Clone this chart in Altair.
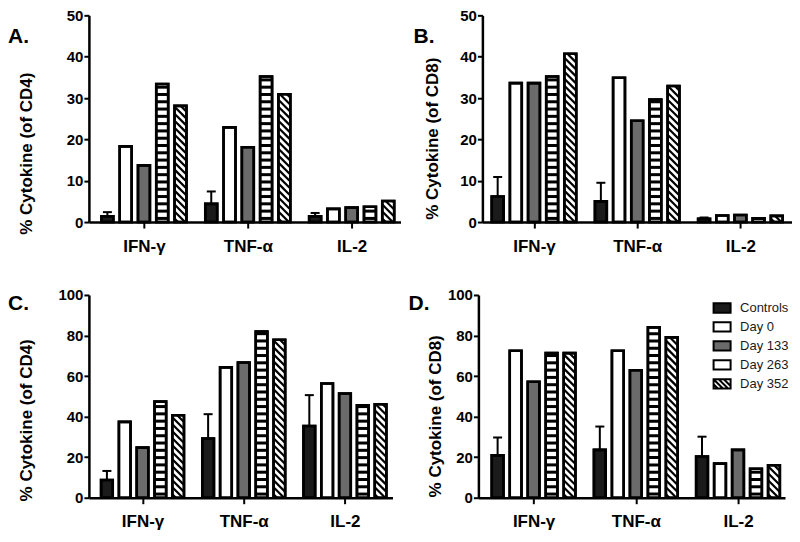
import json
import altair as alt
import pandas as pd

CYTOKINES = ["IFN-γ", "TNF-α", "IL-2"]
SERIES = ["Controls", "Day 0", "Day 133", "Day 263", "Day 352"]
FILLS = ["#1b1b1b", "#ffffff", "#6b6b6b", "#ffffff", "#ffffff"]

# Panel A: % cytokine of CD4 (scale 0-50)
A_IFN = [1.4, 18.3, 13.7, 33.4, 28.1]
A_TNF = [4.4, 22.9, 18.1, 35.2, 30.9]
A_IL2 = [1.4, 3.2, 3.5, 3.7, 5.1]
A_ERR = [1.0, 3.0, 0.8]          # controls error (IFN, TNF, IL-2)

# Panel B: % cytokine of CD8 (scale 0-50)
B_IFN = [6.2, 33.6, 33.6, 35.2, 40.7]
B_TNF = [5.0, 34.9, 24.5, 29.6, 32.9]
B_IL2 = [0.8, 1.6, 1.7, 0.9, 1.5]
B_ERR = [4.7, 4.5, 0.3]

# Panel C: % cytokine of CD4 (scale 0-100)
C_IFN = [8.7, 37.4, 24.7, 47.4, 40.7]
C_TNF = [29.2, 64.3, 66.7, 81.9, 77.9]
C_IL2 = [35.4, 56.3, 51.4, 45.6, 46.1]
C_ERR = [4.5, 12.0, 15.2]

# Panel D: % cytokine of CD8 (scale 0-100)
D_IFN = [20.9, 72.5, 57.2, 71.3, 71.3]
D_TNF = [23.6, 72.5, 62.9, 84.0, 79.1]
D_IL2 = [20.3, 16.8, 23.6, 14.3, 16.0]
D_ERR = [8.8, 11.5, 9.8]

FONT = "Liberation Sans"
STEP = 0.176
BW = 0.115

LEGEND_PATHS = [
    "M-1,-0.55H1V0.55H-1Z",
    "M-1,-0.55H1V0.55H-1Z",
    "M-1,-0.55H1V0.55H-1Z",
    "M-1,-0.55H1V0.55H-1Z",
    "M-1,-0.55H1V0.55H-1Z M-1,-0.55L0.1,0.55 M-0.4,-0.55L0.7,0.55 M0.2,-0.55L1,0.25 M-1,0.05L-0.5,0.55",
]

LABEL_EXPR = json.dumps(CYTOKINES, ensure_ascii=False) + "[floor(datum.value)]"


def make_panel(vals, errs, ymax, ystep, W, H, dom0, letter, lx, ly, ytitle, tx, ty, legend=False):
    kx = W / 3.0
    ky = H / ymax
    rows = []
    for g, cyt in enumerate(CYTOKINES):
        for s, ser in enumerate(SERIES):
            c = g + 0.5 + (s - 2) * STEP
            rows.append(dict(cyt=cyt, series=ser, fill=FILLS[s], v=vals[g][s], base=0.0,
                             x0=c - BW / 2, x1=c + BW / 2, xc=c))
    bars = pd.DataFrame(rows)

    # horizontal stripes (Day 263)
    hs = []
    p = 7.3 / ky
    t = 3.0 / ky
    for r in rows:
        if r["series"] != "Day 263":
            continue
        y = (p - t) / 2
        while y < r["v"]:
            hs.append(dict(x0=r["x0"], x1=r["x1"], s0=y, s1=min(y + t, r["v"])))
            y += p
    hs = pd.DataFrame(hs)

    # diagonal stripes (Day 352)
    ds = []
    pc = 7.0
    for r in rows:
        if r["series"] != "Day 352":
            continue
        px0 = (r["x0"] - dom0) * kx
        px1 = (r["x1"] - dom0) * kx
        pv = r["v"] * ky
        c = px0 + pc / 2
        while c < px1 + pv:
            s = max(px0, c - pv)
            e = min(px1, c)
            if e > s:
                ds.append(dict(xa=s / kx + dom0, xb=e / kx + dom0, ya=(c - s) / ky, yb=(c - e) / ky))
            c += pc
    ds = pd.DataFrame(ds)

    er = []
    for g in range(3):
        r = rows[g * 5]
        er.append(dict(xc=r["xc"], v=r["v"], top=r["v"] + errs[g],
                       c0=r["xc"] - 4.5 / kx, c1=r["xc"] + 4.5 / kx))
    er = pd.DataFrame(er)

    xs = alt.Scale(domain=[dom0, dom0 + 3.0], nice=False, zero=False)
    ys = alt.Scale(domain=[0, ymax], nice=False, zero=True)
    xaxis = alt.Axis(values=[0.5, 1.5, 2.5], labelExpr=LABEL_EXPR, grid=False, title=None,
                     tickSize=6, tickWidth=2, domainWidth=2.5, labelFontSize=17,
                     labelFontWeight="bold", labelPadding=10, labelFont=FONT)
    yaxis = alt.Axis(values=list(range(0, ymax + 1, ystep)), grid=False, title=ytitle,
                     tickSize=5, tickWidth=2, domainWidth=2.5, labelFontSize=15,
                     labelFontWeight="bold", labelPadding=1, labelFont=FONT,
                     titleFontSize=17, titleFontWeight="bold", titleFont=FONT,
                     titleX=tx, titleY=ty, titleAngle=-90, titleBaseline="bottom")

    base = alt.Chart(bars).mark_rect(stroke="black", strokeWidth=2.6).encode(
        x=alt.X("x0:Q", scale=xs, axis=xaxis),
        x2="x1:Q",
        y=alt.Y("v:Q", scale=ys, axis=yaxis),
        y2="base:Q",
        fill=alt.Fill("fill:N", scale=None),
    )
    hstr = alt.Chart(hs).mark_rect(fill="black").encode(
        x="x0:Q", x2="x1:Q", y="s0:Q", y2="s1:Q")
    dstr = alt.Chart(ds).mark_rule(stroke="black", strokeWidth=2.2).encode(
        x="xa:Q", x2="xb:Q", y="ya:Q", y2="yb:Q")
    outline = alt.Chart(bars).mark_rect(fill="white", fillOpacity=0, stroke="black", strokeWidth=2.6).encode(
        x="x0:Q", x2="x1:Q", y="v:Q", y2="base:Q")
    errv = alt.Chart(er).mark_rule(stroke="black", strokeWidth=2).encode(
        x="xc:Q", y="v:Q", y2="top:Q")
    errc = alt.Chart(er).mark_rule(stroke="black", strokeWidth=2).encode(
        x="c0:Q", x2="c1:Q", y="top:Q")
    lab = alt.Chart(pd.DataFrame({"t": [letter]})).mark_text(
        align="left", baseline="alphabetic", fontSize=21, fontWeight="bold", font=FONT, color="black"
    ).encode(x=alt.value(lx), y=alt.value(ly), text="t:N")

    layers = [base, hstr, dstr, outline, errv, errc, lab]
    if legend:
        leg = alt.Legend(title=None, orient="none", legendX=234, legendY=3, padding=0,
                         symbolSize=290, symbolStrokeWidth=2, symbolStrokeColor="black",
                         labelFontSize=13, labelFont=FONT, labelColor="#1a1a1a",
                         labelOffset=8, rowPadding=0)
        pts = alt.Chart(pd.DataFrame({"series": SERIES})).mark_point(
            filled=True, clip=True, stroke="black", strokeWidth=2, opacity=1
        ).encode(
            x=alt.value(10), y=alt.value(-300),
            color=alt.Color("series:N", scale=alt.Scale(domain=SERIES, range=FILLS), legend=leg),
            shape=alt.Shape("series:N", scale=alt.Scale(domain=SERIES, range=LEGEND_PATHS), legend=leg),
        )
        layers.append(pts)
    return alt.layer(*layers).properties(width=W, height=H)


A = make_panel([A_IFN, A_TNF, A_IL2], A_ERR, 50, 10, 312, 207, -0.03, "A.", -81, 28,
               "% Cytokine (of CD4)", -53, 138)
B = make_panel([B_IFN, B_TNF, B_IL2], B_ERR, 50, 10, 310, 207, 0.0, "B.", -69, 28,
               "% Cytokine (of CD8)", -41, 123)
C = make_panel([C_IFN, C_TNF, C_IL2], C_ERR, 100, 20, 304, 203, -0.03, "C.", -81, 15,
               "% Cytokine (of CD4)", -53, 125)
D = make_panel([D_IFN, D_TNF, D_IL2], D_ERR, 100, 20, 307, 203, -0.04, "D.", -70, 15,
               "% Cytokine (of CD8)", -34, 121, legend=True)

top = alt.hconcat(A, B, spacing=13)
bottom = alt.hconcat(C, D, spacing=16).resolve_scale(color="independent", shape="independent").resolve_legend(
    color="independent", shape="independent")
chart = alt.vconcat(top, bottom, spacing=34).resolve_scale(
    color="independent", shape="independent").resolve_legend(color="independent", shape="independent")
chart = chart.properties(padding=0).configure_view(stroke=None).configure_axis(
    domainColor="black", tickColor="black", labelColor="black", titleColor="black")

chart.save("out.html", embed_options={"renderer": "svg", "actions": False})
